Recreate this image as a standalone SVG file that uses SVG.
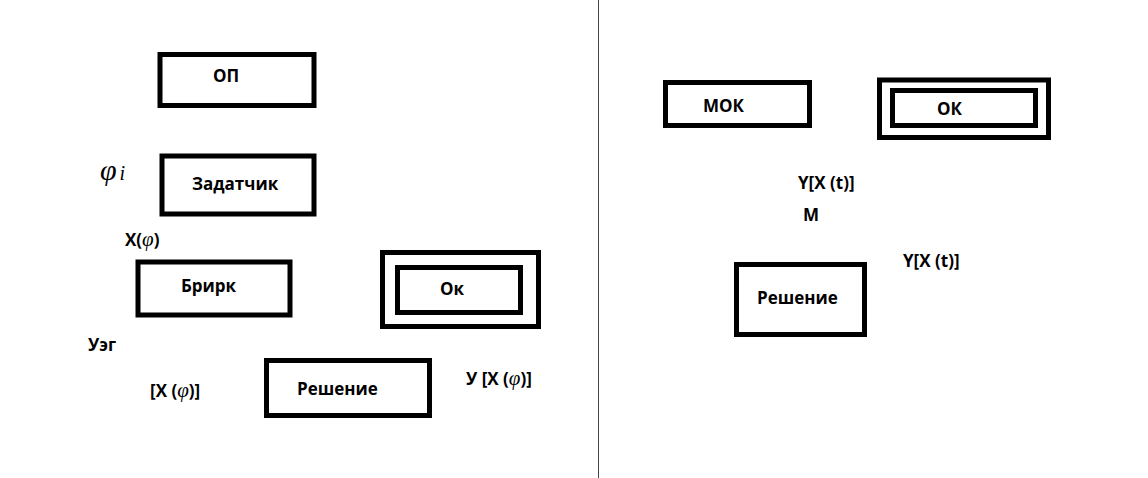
<svg xmlns="http://www.w3.org/2000/svg" width="1148" height="478" viewBox="0 0 1148 478">
<style>
.b{fill:none;stroke:#000;stroke-width:5}
.t{font-family:"Open Sans","Liberation Sans",sans-serif;font-weight:bold;font-size:17px;fill:#000}
.h{font-family:"Liberation Serif",serif;font-style:italic;font-weight:normal;fill:#000}
</style>
<rect width="1148" height="478" fill="#fff"/>
<g id="divider"><line x1="598.5" y1="0" x2="598.5" y2="478" stroke="#444" stroke-width="1"/></g>
<g id="op"><rect class="b" x="160" y="54.5" width="154" height="51"/><text class="t" x="213" y="82">ОП</text></g>
<g id="zadatchik"><rect class="b" x="162" y="156" width="152" height="58"/><text class="t" x="192" y="190">Задатчик</text></g>
<g id="brirk"><rect class="b" x="138" y="262" width="152" height="53"/><text class="t" x="181" y="292">Брирк</text></g>
<g id="ok-left"><rect class="b" x="382.5" y="252.5" width="156" height="74"/><rect class="b" x="397.5" y="267.5" width="123" height="45"/><text class="t" x="440" y="295">Ок</text></g>
<g id="reshenie-left"><rect class="b" x="266.5" y="360.5" width="163" height="55"/><text class="t" x="297" y="395">Решение</text></g>
<g id="mok"><rect class="b" x="665.5" y="82.5" width="144" height="43"/><text class="t" x="703" y="112">МОК</text></g>
<g id="ok-right"><rect class="b" x="879.5" y="80" width="169" height="57.5"/><rect class="b" x="892.5" y="90.5" width="143" height="35"/><text class="t" x="937" y="115">ОК</text></g>
<g id="reshenie-right"><rect class="b" x="736.5" y="264.5" width="128" height="70"/><text class="t" x="757" y="304">Решение</text></g>
<g id="labels">
<text class="h" x="100" y="180" font-size="30">φ<tspan font-size="20" dx="3">i</tspan></text>
<text class="t" x="125" y="246">X(<tspan class="h" font-size="21">φ</tspan>)</text>
<text class="t" x="88" y="351">Уэг</text>
<text class="t" x="150" y="397">[X (<tspan class="h" font-size="21">φ</tspan>)]</text>
<text class="t" x="466" y="385">У [X (<tspan class="h" font-size="21">φ</tspan>)]</text>
<text class="t" x="798" y="189">Y[X (t)]</text>
<text class="t" x="803" y="221">М</text>
<text class="t" x="903" y="267">Y[X (t)]</text>
</g>
</svg>
